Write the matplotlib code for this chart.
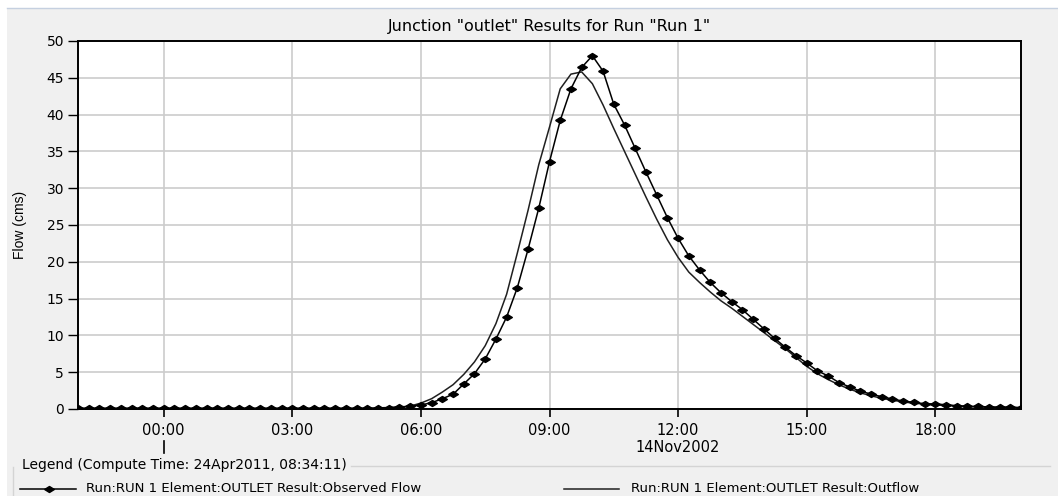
#!/usr/bin/env python3
"""Junction "outlet" hydrograph: observed vs computed outflow."""

import matplotlib

matplotlib.use("Agg")
import matplotlib.dates as mdates
import matplotlib.pyplot as plt
import matplotlib.transforms as mtransforms
import pandas as pd
from matplotlib.lines import Line2D
from matplotlib.patches import Rectangle

# 15-minute time steps, 13Nov2002 22:00 .. 14Nov2002 20:00
TIMES = pd.date_range("2002-11-13 22:00", "2002-11-14 20:00", freq="15min")

OBSERVED = [
    0.1, 0.1, 0.1, 0.1, 0.1, 0.1, 0.1, 0.1, 0.1, 0.1, 0.1, 0.1, 0.1, 0.1,
    0.1, 0.1, 0.1, 0.1, 0.1, 0.1, 0.1, 0.1, 0.1, 0.1, 0.1, 0.1, 0.1, 0.1,
    0.15, 0.2, 0.3, 0.35, 0.55, 0.85, 1.4, 2.0, 3.4, 4.8, 6.8, 9.5,
    12.5, 16.5, 21.7, 27.3, 33.6, 39.2, 43.5, 46.4, 48.0, 45.9, 41.4, 38.6,
    35.4, 32.2, 29.1, 26.0, 23.2, 20.8, 18.9, 17.2, 15.8, 14.6, 13.5, 12.2,
    10.9, 9.6, 8.4, 7.25, 6.26, 5.18, 4.5, 3.6, 3.0, 2.43, 2.03, 1.67,
    1.35, 1.08, 0.9, 0.72, 0.68, 0.58, 0.45, 0.35, 0.35, 0.27, 0.25, 0.25,
    0.2,
]

OUTFLOW = [
    0.05, 0.05, 0.05, 0.05, 0.05, 0.05, 0.05, 0.05, 0.05, 0.05, 0.05, 0.05,
    0.05, 0.05, 0.05, 0.05, 0.05, 0.05, 0.05, 0.05, 0.05, 0.05, 0.05, 0.05,
    0.05, 0.05, 0.05, 0.05,
    0.08, 0.12, 0.2, 0.4, 0.8, 1.4, 2.3, 3.3, 4.7, 6.4, 8.6, 11.6,
    15.6, 21.2, 27.0, 33.2, 38.3, 43.5, 45.5, 45.8, 44.2, 41.3, 38.1, 35.0,
    31.9, 28.8, 25.8, 23.0, 20.6, 18.6, 17.2, 15.9, 14.7, 13.7, 12.6, 11.5,
    10.4, 9.3, 8.2, 7.0, 5.8, 4.8, 4.0, 3.3, 2.7, 2.2, 1.8, 1.45,
    1.2, 0.95, 0.8, 0.65, 0.55, 0.47, 0.4, 0.33, 0.28, 0.24, 0.2, 0.18,
    0.15,
]

TITLE = 'Junction "outlet" Results for Run "Run 1"'
YLABEL = "Flow (cms)"
DATE_LABEL = "14Nov2002"
LEGEND_TITLE = "Legend (Compute Time: 24Apr2011, 08:34:11)"
LABEL_OBS = "Run:RUN 1 Element:OUTLET Result:Observed Flow"
LABEL_OUT = "Run:RUN 1 Element:OUTLET Result:Outflow"

W, H = 1058, 496
BG = "#f0f0f0"
DIAMOND = [(-1, 0), (0, 0.62), (1, 0), (0, -0.62), (-1, 0)]


def fx(px):
    return px / W


def fy(py):
    return 1 - py / H


def main():
    fig = plt.figure(figsize=(W / 100, H / 100), dpi=100, facecolor="white")

    # grey panel with thin frame line at top, like the Swing window
    fig.patches.append(Rectangle((fx(7), 0), 1, fy(8), transform=fig.transFigure,
                                 facecolor=BG, edgecolor="none", zorder=-10))
    fig.add_artist(Line2D([fx(7), 1], [fy(8), fy(8)], color="#c5d0e0", lw=1))

    ax = fig.add_axes([fx(78), fy(409), fx(1021) - fx(78), fy(41) - fy(409)])
    ax.set_facecolor("white")

    ax.plot(TIMES, OUTFLOW, color="#202020", lw=1.1, zorder=3)
    ax.plot(TIMES, OBSERVED, color="black", lw=1.1, marker=DIAMOND,
            markersize=7, zorder=4)

    ax.set_xlim(TIMES[0], TIMES[-1])
    ax.set_ylim(0, 50)
    ax.set_yticks(range(0, 51, 5))
    ax.xaxis.set_major_locator(mdates.HourLocator(byhour=range(0, 24, 3)))
    ax.xaxis.set_major_formatter(mdates.DateFormatter("%H:%M"))
    ax.grid(color="#cccccc", lw=1.2)
    ax.set_axisbelow(True)
    for sp in ax.spines.values():
        sp.set_color("black")
        sp.set_linewidth(1.4)
    ax.tick_params(axis="y", length=7, width=1, pad=3, labelsize=10)
    ax.tick_params(axis="x", length=6, width=1.2, pad=4, labelsize=10.5)

    ax.set_title(TITLE, fontsize=11.5, pad=7)
    fig.text(fx(20), fy(225), YLABEL, rotation=90, ha="center", va="center",
             fontsize=10, family="Liberation Sans")

    # day label under 12:00 and day-boundary tick under 00:00
    trans = mtransforms.blended_transform_factory(ax.transData, fig.transFigure)
    noon = mdates.date2num(pd.Timestamp("2002-11-14 12:00"))
    midnight = mdates.date2num(pd.Timestamp("2002-11-14 00:00"))
    ax.text(noon, fy(448), DATE_LABEL, transform=trans, ha="center",
            va="center", fontsize=10.5)
    ax.add_line(Line2D([midnight, midnight], [fy(441), fy(453)], transform=trans,
                       color="black", lw=1.2, clip_on=False))

    # legend box (titled border)
    leg_title = fig.text(fx(22), fy(465), LEGEND_TITLE, ha="left", va="center",
                         fontsize=10)
    fig.canvas.draw()
    bb = leg_title.get_window_extent()
    fig.add_artist(Line2D([fx(13), fx(13)], [fy(467), 0], color="#d4d4d4", lw=1))
    fig.add_artist(Line2D([(bb.x1 + 4) / W, fx(1050)], [fy(466), fy(466)],
                          color="#d4d4d4", lw=1))

    fig.add_artist(Line2D([fx(20), fx(76)], [fy(489), fy(489)], color="black",
                          lw=1.1))
    fig.add_artist(Line2D([fx(49)], [fy(489)], color="black", marker=DIAMOND,
                          markersize=7, lw=0))
    fig.text(fx(86), fy(489), LABEL_OBS, ha="left", va="center", fontsize=9.5)
    fig.add_artist(Line2D([fx(564), fx(619)], [fy(489), fy(489)],
                          color="#202020", lw=1.1))
    fig.text(fx(631), fy(489), LABEL_OUT, ha="left", va="center", fontsize=9.5)

    fig.savefig("out.png", dpi=100, facecolor=fig.get_facecolor())
    plt.close(fig)


if __name__ == "__main__":
    main()
